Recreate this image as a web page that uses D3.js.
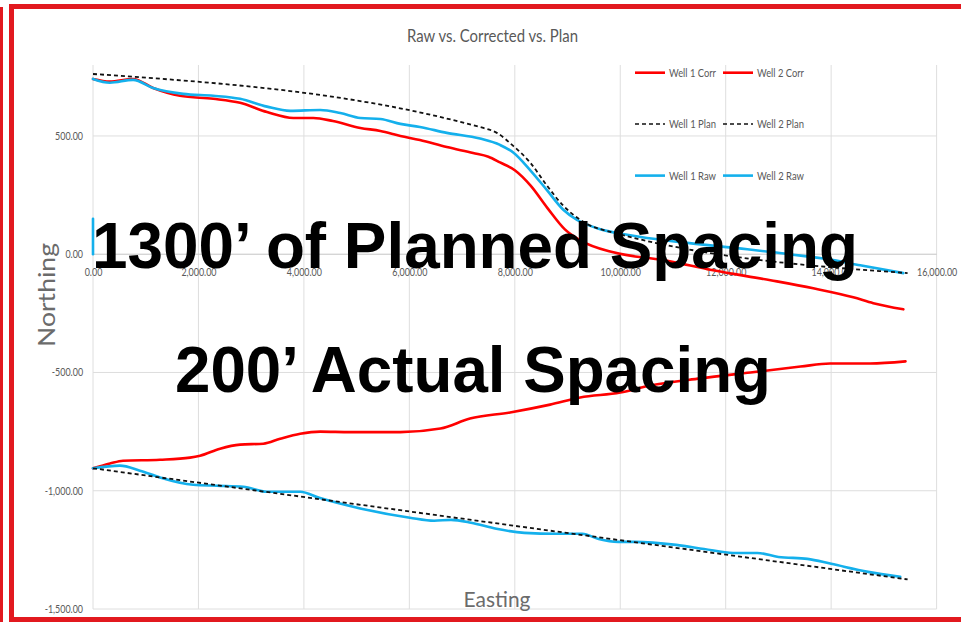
<!DOCTYPE html>
<html><head><meta charset="utf-8">
<script src="https://cdn.jsdelivr.net/npm/d3@7"></script>
<style>html,body{margin:0;padding:0;background:#fff;overflow:hidden}</style>
</head><body><svg id="c" width="961" height="622"></svg>
<script>
// ---------- data ----------
const chartTitle = "Raw vs. Corrected vs. Plan";
const xAxisTitle = "Easting";
const yAxisTitle = "Northing";
const xTicks = [0, 2000, 4000, 6000, 8000, 10000, 12000, 14000, 16000];
const yTicks = [-1500, -1000, -500, 0, 500];
const overlayLines = ["1300\u2019 of Planned Spacing", "200\u2019 Actual Spacing"];
const seriesNames = ["Well 1 Corr", "Well 2 Corr", "Well 1 Plan", "Well 2 Plan", "Well 1 Raw", "Well 2 Raw"];

const well1Corr = [[0,741],[320,730],[760,741],[1140,703],[1650,670],[2280,657],[2790,640],[3300,601],[3800,576],[4180,576],[4550,563],[5070,534],[5450,521],[5830,500],[6200,483],[6710,453],[7210,428],[7500,412],[7720,388],[8000,355],[8300,290],[8620,195],[8950,105],[9240,59],[9870,8],[10820,-25],[11760,-68],[12850,-110],[13660,-144],[14420,-182],[14800,-207],[15370,-233]];
const well2Corr = [[0,-905],[323,-885],[570,-873],[1270,-869],[1840,-860],[2030,-852],[2410,-822],[2790,-805],[3230,-801],[3550,-780],[3930,-759],[4310,-750],[4880,-752],[5830,-752],[6590,-737],[7150,-695],[7910,-669],[8670,-636],[9240,-606],[10000,-585],[10570,-555],[11520,-525],[12470,-500],[13420,-475],[13980,-462],[14740,-462],[15410,-453]];
const well1Plan = [[0,762],[7350,537],[7660,513],[7970,458],[8290,388],[8610,290],[8920,205],[9180,155],[9560,110],[15450,-80]];
const well2Plan = [[0,-905],[15450,-1375]];
const well1Raw = [[0,741],[320,725],[760,737],[1140,703],[1710,678],[2280,670],[2790,657],[3300,624],[3740,606],[4310,610],[4690,597],[5070,576],[5450,572],[5830,551],[6200,538],[6710,513],[7340,489],[7720,462],[7970,430],[8290,356],[8610,271],[8920,188],[9180,145],[9560,110],[10190,80],[11140,51],[12410,21],[12900,8],[14040,-25],[14550,-47],[15370,-80]];
const well1RawTieIn = [[0,0],[0,150]];
const well2Raw = [[0,-905],[510,-894],[890,-915],[1270,-944],[1900,-975],[2350,-979],[2850,-983],[3300,-1004],[3930,-1004],[4290,-1030],[5090,-1076],[6010,-1114],[6470,-1127],[6790,-1123],[7170,-1135],[7650,-1161],[8180,-1178],[8800,-1182],[9280,-1182],[9590,-1204],[9960,-1216],[10280,-1216],[11060,-1229],[11590,-1246],[12140,-1263],[12600,-1263],[13000,-1280],[13550,-1288],[14000,-1309],[14700,-1343],[15310,-1364]];

// ---------- setup ----------
const svg = d3.select("#c");
const RED = "#ff0000", BLUE = "#14b0ec", BORDER = "#e2191f", TXT = "#595959";
const x = d3.scaleLinear().domain([0, 16000]).range([93, 936.6]);
const y = d3.scaleLinear().domain([-1500, 800]).range([609, 65]);
const loc = d3.formatLocale({decimal: ".", thousands: ",", grouping: [3], currency: ["$", ""], minus: "-"});
const fmt = loc.format(",.2f");

// border frame
svg.append("rect").attr("x", 0).attr("y", 7).attr("width", 3).attr("height", 615).attr("fill", BORDER);
svg.append("rect").attr("x", 11.5).attr("y", 6.5).attr("width", 1000).attr("height", 613)
  .attr("fill", "none").attr("stroke", BORDER).attr("stroke-width", 5);

// title
svg.append("text").attr("x", 407).attr("y", 42).text(chartTitle)
  .attr("font-family", "Lato, sans-serif").attr("font-size", 18).attr("fill", TXT)
  .attr("textLength", 171).attr("lengthAdjust", "spacingAndGlyphs");

// gridlines
const grid = svg.append("g");
grid.selectAll("line.v").data(xTicks).join("line")
  .attr("x1", d => x(d)).attr("x2", d => x(d)).attr("y1", y(800)).attr("y2", y(-1500))
  .attr("stroke", "#dedede").attr("stroke-width", 1);
grid.selectAll("line.h").data(yTicks).join("line")
  .attr("x1", x(0)).attr("x2", x(16000)).attr("y1", d => y(d)).attr("y2", d => y(d))
  .attr("stroke", d => d === 0 ? "#c4c4c4" : "#dedede").attr("stroke-width", 1);

// axes
const yAxis = svg.append("g").attr("transform", `translate(${x(0)},0)`)
  .call(d3.axisLeft(y).tickValues(yTicks).tickFormat(fmt).tickSize(0).tickPadding(12.3));
const xAxis = svg.append("g").attr("transform", `translate(0,${y(0)})`)
  .call(d3.axisBottom(x).tickValues(xTicks).tickFormat(fmt).tickSize(0).tickPadding(14));
[yAxis, xAxis].forEach(a => {
  a.select(".domain").remove();
  a.selectAll("text").attr("font-family", "Lato, sans-serif").attr("font-size", 11)
    .attr("fill", TXT).attr("transform", "scale(0.81,1)");
});

// axis titles
svg.append("text").attr("transform", "translate(55,295) rotate(-90)")
  .attr("text-anchor", "middle").text(yAxisTitle)
  .attr("font-family", "Lato, sans-serif").attr("font-size", 24).attr("fill", "#6b6b6b")
  .attr("textLength", 104).attr("lengthAdjust", "spacingAndGlyphs");
svg.append("text").attr("x", 497).attr("y", 607).attr("text-anchor", "middle").text(xAxisTitle)
  .attr("font-family", "Lato, sans-serif").attr("font-size", 22).attr("fill", "#6b6b6b")
  .attr("textLength", 67).attr("lengthAdjust", "spacingAndGlyphs");

// series
const line = d3.line().x(d => x(d[0])).y(d => y(d[1])).curve(d3.curveMonotoneX);
const lineStraight = d3.line().x(d => x(d[0])).y(d => y(d[1]));
const plot = svg.append("g").attr("fill", "none").attr("stroke-linejoin", "round").attr("stroke-linecap", "round");
const corr = [well1Corr, well2Corr], raw = [well1Raw, well2Raw], plan = [well1Plan, well2Plan];
corr.forEach(s => plot.append("path").attr("d", line(s)).attr("stroke", RED).attr("stroke-width", 2.6));
plot.append("path").attr("d", lineStraight(well1RawTieIn)).attr("stroke", BLUE).attr("stroke-width", 2.6);
raw.forEach(s => plot.append("path").attr("d", line(s)).attr("stroke", BLUE).attr("stroke-width", 2.6));
plan.forEach(s => plot.append("path").attr("d", line(s)).attr("stroke", "#111")
  .attr("stroke-width", 1.8).attr("stroke-dasharray", "4,3").attr("stroke-linecap", "butt"));

// legend
const legCols = [635, 723], legRows = [72.7, 124, 175.6];
const legStyle = [
  {stroke: RED, w: 2.6, dash: null},
  {stroke: "#111", w: 1.6, dash: "4,3"},
  {stroke: BLUE, w: 2.6, dash: null}
];
const leg = svg.append("g");
seriesNames.forEach((name, i) => {
  const r = Math.floor(i / 2), c = i % 2;
  const st = legStyle[r];
  const g = leg.append("g").attr("transform", `translate(${legCols[c]},${legRows[r]})`);
  g.append("line").attr("x1", 0).attr("x2", 30).attr("y1", 0).attr("y2", 0)
    .attr("stroke", st.stroke).attr("stroke-width", st.w).attr("stroke-dasharray", st.dash);
  g.append("text").attr("x", 34).attr("y", 4).text(name)
    .attr("font-family", "Lato, sans-serif").attr("font-size", 12).attr("fill", TXT)
    .attr("textLength", 47).attr("lengthAdjust", "spacingAndGlyphs");
});

// overlay annotation text
const ov = svg.append("g").attr("font-family", "'Liberation Sans', Arial, sans-serif")
  .attr("font-weight", "bold").attr("font-size", 64).attr("fill", "#000");
ov.append("text").attr("x", 92).attr("y", 268).attr("textLength", 766).attr("lengthAdjust", "spacingAndGlyphs").text(overlayLines[0]);
ov.append("text").attr("x", 175).attr("y", 392).attr("textLength", 596).attr("lengthAdjust", "spacingAndGlyphs").text(overlayLines[1]);
</script>
</body></html>
